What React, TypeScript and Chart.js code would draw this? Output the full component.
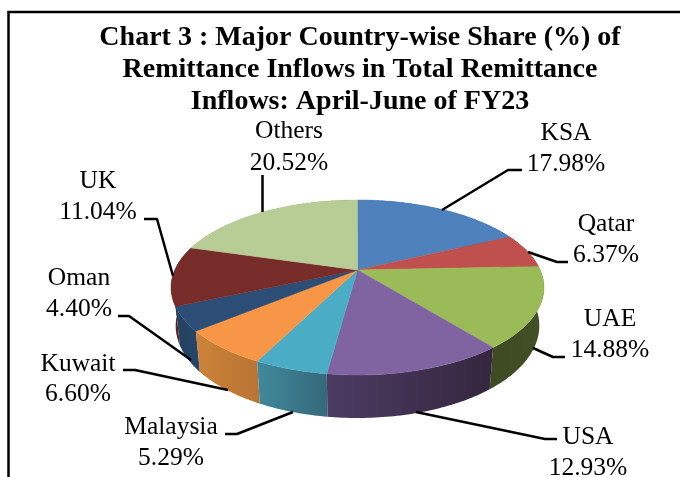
import React, { useEffect, useRef } from "react";
import { Chart, registerables } from "chart.js";

Chart.register(...registerables);

const categories = ["KSA", "Qatar", "UAE", "USA", "Malaysia", "Kuwait", "Oman", "UK", "Others"];
const shares = [17.98, 6.37, 14.88, 12.93, 5.29, 6.6, 4.4, 11.04, 20.52];
const titleLines = [
  "Chart 3 : Major Country-wise Share (%) of",
  "Remittance Inflows in Total Remittance",
  "Inflows: April-June of FY23",
];

const topColors = ["#4F81BD", "#C0504D", "#9BBB59", "#8064A2", "#4BACC6", "#F79646", "#2C4D75", "#772C2A", "#B8CD95"];
const wallLeft = ["#3A5F8C", "#7A3230", "#3D4A22", "#4C3B62", "#41899C", "#CC8238", "#234060", "#5A2120", "#8A9A70"];
const wallRight = ["#3A5F8C", "#7A3230", "#434F26", "#35263F", "#34687A", "#B87434", "#274668", "#5A2120", "#8A9A70"];

// Label anchors: [centre x, first baseline, second baseline]
const labelPos = [
  [566, 140, 171], [606, 231, 262], [610, 326, 357], [588, 444, 475],
  [171, 434, 465], [78, 371, 401], [79, 285, 316], [98, 188, 219], [289, 138, 170],
];
// Leader polylines
const leaders = [
  [[522, 170], [508, 170], [442, 210]],
  [[568, 262], [557, 262], [528, 252]],
  [[565, 357], [553, 357], [533, 348]],
  [[557, 439], [545, 439], [416, 412]],
  [[225, 434], [237, 434], [293, 412]],
  [[123, 370], [135, 370], [228, 390]],
  [[118, 316], [129, 316], [191, 360]],
  [[144, 219], [157, 219], [173, 276]],
  [[262.5, 175], [262.5, 212]],
];

// Perspective projection of the pie's disc
const CX = 357.5, CY = 270, RX = 182.7, RY = 84, TILT = 0.2;
const project = (theta: number) => {
  const u = Math.sin(theta), v = -Math.cos(theta), w = 1 - TILT * v;
  return { x: CX + (RX * u) / w, y: CY + (RY * v) / w, v };
};
const projectBottom = (theta: number) => {
  const p = project(theta);
  return { x: CX + (p.x - CX) * 0.975, y: p.y + 37 + 6 * p.v };
};

const pie3d = {
  id: "pie3d",
  beforeDatasetDraw(chart: any, args: any) {
    const ctx = chart.ctx;
    const arcs = chart.getDatasetMeta(args.index).data.map((el: any, i: number) => ({
      i,
      a: el.startAngle + Math.PI / 2,
      b: el.endAngle + Math.PI / 2,
    }));
    const sample = (a: number, b: number) => {
      const n = Math.max(2, Math.ceil((b - a) * 60));
      return Array.from({ length: n + 1 }, (_, k) => a + ((b - a) * k) / n);
    };
    ctx.save();
    // side walls, back to front
    const order = [...arcs].sort(
      (p: any, q: any) => -Math.cos((p.a + p.b) / 2) - -Math.cos((q.a + q.b) / 2)
    );
    for (const s of order) {
      const ts = sample(s.a, s.b);
      const top = ts.map(project);
      const bot = ts.map(projectBottom);
      const xs = [...top, ...bot].map((p) => p.x);
      const g = ctx.createLinearGradient(Math.min(...xs), 0, Math.max(...xs), 0);
      g.addColorStop(0, wallLeft[s.i]);
      g.addColorStop(1, wallRight[s.i]);
      ctx.beginPath();
      top.forEach((p: any, k: number) => (k ? ctx.lineTo(p.x, p.y) : ctx.moveTo(p.x, p.y)));
      [...bot].reverse().forEach((p: any) => ctx.lineTo(p.x, p.y));
      ctx.closePath();
      ctx.fillStyle = g;
      ctx.fill();
    }
    // top faces
    for (const s of arcs) {
      ctx.beginPath();
      ctx.moveTo(CX, CY);
      sample(s.a, s.b).map(project).forEach((p: any) => ctx.lineTo(p.x, p.y));
      ctx.closePath();
      ctx.fillStyle = topColors[s.i];
      ctx.strokeStyle = topColors[s.i];
      ctx.lineWidth = 0.5;
      ctx.fill();
      ctx.stroke();
    }
    ctx.restore();
    return false;
  },
  afterDraw(chart: any) {
    const ctx = chart.ctx;
    ctx.save();
    // frame
    ctx.strokeStyle = "#000";
    ctx.lineWidth = 2.5;
    ctx.beginPath();
    ctx.moveTo(8.5, 477);
    ctx.lineTo(8.5, 12);
    ctx.lineTo(680, 12);
    ctx.stroke();
    // leaders
    ctx.lineWidth = 2.5;
    ctx.lineJoin = "round";
    leaders.forEach((line) => {
      ctx.beginPath();
      line.forEach(([x, y], k) => (k ? ctx.lineTo(x, y) : ctx.moveTo(x, y)));
      ctx.stroke();
    });
    // labels
    ctx.fillStyle = "#000";
    ctx.font = '25.5px "Liberation Serif"';
    ctx.textAlign = "center";
    ctx.textBaseline = "alphabetic";
    categories.forEach((name, i) => {
      const [x, y1, y2] = labelPos[i];
      ctx.fillText(name, x, y1);
      ctx.fillText(shares[i].toFixed(2) + "%", x, y2);
    });
    ctx.restore();
  },
};

export default function App() {
  const ref = useRef<HTMLCanvasElement>(null);
  useEffect(() => {
    const chart = new Chart(ref.current!, {
      type: "pie",
      data: {
        labels: categories,
        datasets: [{ data: shares, backgroundColor: topColors, borderWidth: 0 }],
      },
      options: {
        responsive: false,
        animation: false,
        layout: { padding: { left: 40, top: 0 } },
        plugins: {
          legend: { display: false },
          tooltip: { enabled: false },
          title: {
            display: true,
            text: titleLines,
            color: "#000",
            font: { family: '"Liberation Serif"', size: 28, weight: "bold", lineHeight: 32 / 28 },
            padding: { top: 22, bottom: 0 },
          },
        },
      },
      plugins: [pie3d],
    } as any);
    return () => chart.destroy();
  }, []);
  return (
    <div style={{ position: "fixed", left: 0, top: 0, width: 680, height: 477, background: "#fff" }}>
      <canvas ref={ref} width={680} height={477} style={{ display: "block" }} />
    </div>
  );
}
